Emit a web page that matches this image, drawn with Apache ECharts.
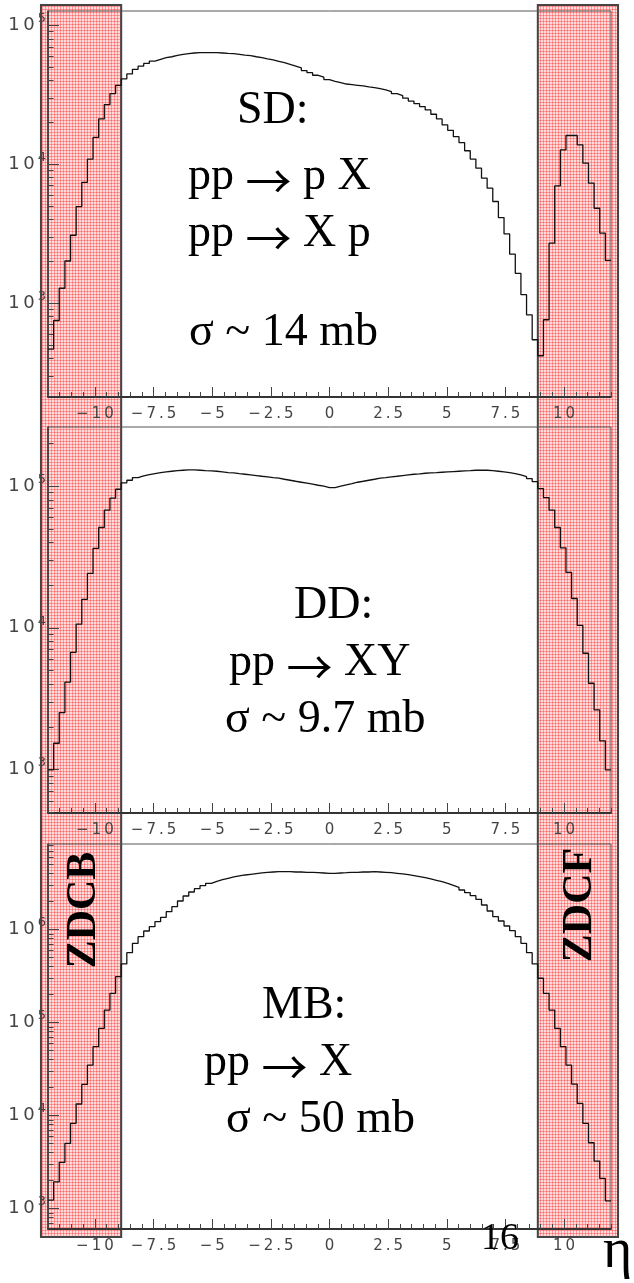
<!DOCTYPE html>
<html><head><meta charset="utf-8">
<script src="https://cdn.jsdelivr.net/npm/echarts@6/dist/echarts.min.js"></script>
<style>html,body{margin:0;padding:0;background:#fff}#c{width:634px;height:1283px}</style>
</head><body><div id="c"></div>
<script>
// ---- histogram binning (eta) ----
const etaMin = -12, etaMax = 12, nBins = 100;

// ---- bin contents ----
const sdValues = [467, 750, 1280, 2010, 3080, 4960, 7410, 10900, 15600, 21200, 26900, 32200, 37000,
  41100, 44700, 48200, 50900, 53200, 55300, 56900, 58500, 59400, 60800, 61800, 62500, 63200, 63500, 63500, 63500, 63500,
  63200, 62800, 62500, 61800, 61100, 60500, 59400, 58500, 57300, 56300, 55100, 53800, 52400, 50900, 49300, 47200, 45600, 43700, 42300, 40700,
  39500, 38700, 37800, 37400, 37000, 36600, 36000, 35600, 35000, 34300, 33300, 32200, 31200, 29900, 28500, 27300, 26000, 24600, 22900, 21200,
  19200, 17500, 15800, 14300, 12500, 10900, 9360, 7930, 6720, 5390, 4130, 3150, 2250, 1640, 1150, 824, 545, 418,
  759, 2700, 6980, 12700, 16100, 16100, 13800, 10200, 7300, 4820, 3190, 2030];

const ddValues = [993, 1530, 2520, 4130, 6710, 10600, 15900, 24200, 36400, 51100, 67700, 82300, 95200,
  105600, 110200, 115100, 118300, 120800, 122800, 124800, 126200, 127600, 128900, 129700, 130400,
  130400, 129700, 128900, 128300, 127600, 126200, 124800, 124200, 122800, 121500, 120200, 118900, 117600, 116400, 115100,
  113900, 112000, 110200, 108400, 106700, 105000, 103300, 101600, 100000, 97900,
  97900, 100000, 102200, 104400, 106700, 108400, 110200, 112000, 113900, 115100, 116400, 117600, 118900, 120200, 121500,
  122200, 123500, 124200, 124800, 125500, 126200, 126900, 127600, 128300, 128900, 129700, 129700, 129700, 128900, 127600,
  126200, 124800, 122800, 120200, 117000, 113200, 107900, 96300,
  83200, 67700, 51100, 36700, 24600, 16100, 10400, 6610, 4060, 2630, 1590, 993];

const mbValues = [1230, 1940, 3140, 5020, 8240, 13300, 21600, 34900, 55000, 86500, 136000, 206000, 311000,
  426000, 564000, 710000, 837000, 964000, 1073000, 1214000, 1351000, 1555000, 1760000, 2025000, 2292000, 2531000, 2749000, 2960000,
  3136000, 3295000, 3434000, 3550000, 3669000, 3761000, 3855000, 3920000, 3985000, 4051000, 4118000, 4152000, 4187000,
  4187000, 4187000, 4152000, 4152000, 4118000, 4118000, 4084000, 4051000, 4018000, 4018000, 4051000, 4084000, 4118000, 4118000,
  4152000, 4152000, 4187000, 4152000, 4118000, 4084000, 4018000, 3952000, 3887000, 3792000, 3699000, 3609000, 3491000, 3378000,
  3268000, 3136000, 2985000, 2841000, 2658000, 2489000, 2311000, 2110000, 1834000, 1581000, 1374000, 1234000, 1090000, 972000,
  837000, 710000, 564000, 426000, 299000,
  206000, 136000, 86500, 55000, 34900, 21800, 13500, 8240, 5100, 3240, 2110, 1210];

// ---- axes ----
const xTickLabels = [-10, -7.5, -5, -2.5, 0, 2.5, 5, 7.5, 10];
const yDecades = [[1e3, 1e4, 1e5], [1e3, 1e4, 1e5], [1e3, 1e4, 1e5, 1e6]];
const yRanges = [[211, 126800], [492, 262000], [603, 8300000]];
const zdcBands = [[-12.3, -8.88], [8.88, 12.3]];
const zdcNames = ['ZDCB', 'ZDCF'];

// annotation lines: [before arrow, after arrow] or plain text
const panelTexts = [
  ['SD:', ['pp ', ' p X'], ['pp ', ' X p'], '\u03c3 ~ 14 mb'],
  ['DD:', ['pp ', ' XY'], '\u03c3 ~ 9.7 mb'],
  ['MB:', ['pp ', ' X'], '\u03c3 ~ 50 mb']
];

const chart = echarts.init(document.getElementById('c'), null, {renderer: 'canvas'});

const binW = (etaMax - etaMin) / nBins;
function histData(vals) {
  const d = vals.map((v, i) => [+(etaMin + i * binW).toFixed(4), v]);
  d.push([etaMax, vals[vals.length - 1]]);
  return d;
}
const xMinor = [];
for (let v = etaMin; v <= etaMax + 1e-9; v += 0.5) xMinor.push(+v.toFixed(2));

function yMinorTicks(r) {
  const out = [];
  for (let e = 2; e <= 7; e++) for (let m = 2; m <= 9; m++) {
    const v = m * Math.pow(10, e);
    if (v > r[0] && v < r[1]) out.push(v);
  }
  return out;
}
function fmtX(v) {
  const s = v < 0 ? '\u2212' + Math.abs(v) : String(v);
  return s.split('').join('\u2009');
}
const labelColor = '#444';
const grids = [
  {left: 48, right: 23, top: 11, height: 386},
  {left: 48, right: 23, top: 427, height: 386},
  {left: 48, right: 23, top: 844, height: 385}
];
const xAxes = [], yAxes = [], series = [];
const allVals = [sdValues, ddValues, mbValues];
for (let g = 0; g < 3; g++) {
  grids[g].show = true; grids[g].borderColor = '#555'; grids[g].borderWidth = 1;
  xAxes.push({
    type: 'value', gridIndex: g, min: etaMin, max: etaMax, position: 'bottom',
    axisLine: {show: true, onZero: false, lineStyle: {color: '#333', width: 2}},
    axisTick: {show: true, inside: true, length: 10, customValues: xTickLabels, lineStyle: {color: '#444'}},
    axisLabel: {customValues: xTickLabels, margin: 10, fontFamily: 'DejaVu Sans', fontSize: 15, color: labelColor, formatter: fmtX},
    splitLine: {show: false}
  });
  xAxes.push({
    type: 'value', gridIndex: g, min: etaMin, max: etaMax, position: 'bottom',
    axisLine: {show: false, onZero: false},
    axisTick: {show: true, inside: true, length: 5, customValues: xMinor, lineStyle: {color: '#444'}},
    axisLabel: {show: false}, splitLine: {show: false}
  });
  yAxes.push({
    type: 'log', logBase: 10, gridIndex: g, min: yRanges[g][0], max: yRanges[g][1], position: 'left',
    axisLine: {show: true, onZero: false, lineStyle: {color: '#333', width: 1.5}},
    axisTick: {show: true, inside: true, length: 11, customValues: yDecades[g], lineStyle: {color: '#444'}},
    axisLabel: {
      customValues: yDecades[g], margin: 2,
      formatter: v => '{b|1\u20090}{e|' + Math.round(Math.log10(v)) + '}',
      rich: {
        b: {fontFamily: 'DejaVu Sans', fontSize: 18, lineHeight: 26, color: labelColor},
        e: {fontFamily: 'DejaVu Sans', fontSize: 13, lineHeight: 13, verticalAlign: 'top', color: labelColor, padding: [0, 0, 0, 3]}
      }
    },
    splitLine: {show: false}
  });
  yAxes.push({
    type: 'log', logBase: 10, gridIndex: g, min: yRanges[g][0], max: yRanges[g][1], position: 'left',
    axisLine: {show: false, onZero: false},
    axisTick: {show: true, inside: true, length: 5.5, customValues: yMinorTicks(yRanges[g]), lineStyle: {color: '#444'}},
    axisLabel: {show: false}, splitLine: {show: false}
  });
  series.push({
    type: 'line', xAxisIndex: 2 * g, yAxisIndex: 2 * g, data: histData(allVals[g]),
    step: 'end', symbol: 'none', silent: true, z: 5,
    lineStyle: {color: '#111', width: 1.3}
  });
}

chart.setOption({
  animation: false,
  backgroundColor: '#fff',
  grid: grids, xAxis: xAxes, yAxis: yAxes, series: series
});

// pink hatched pattern for the ZDC regions
const pc = document.createElement('canvas');
pc.width = 6; pc.height = 6;
const ctx = pc.getContext('2d');
ctx.fillStyle = '#ffdcdc'; ctx.fillRect(0, 0, 6, 6);
ctx.fillStyle = '#ff9a9a';
ctx.fillRect(0, 0, 6, 1); ctx.fillRect(0, 3, 6, 1); ctx.fillRect(0, 0, 1, 6); ctx.fillRect(3, 0, 1, 6);
ctx.fillStyle = '#ff6a6a';
ctx.fillRect(0, 0, 1, 1); ctx.fillRect(3, 3, 1, 1); ctx.fillRect(0, 3, 1, 1); ctx.fillRect(3, 0, 1, 1);

const yTop = chart.convertToPixel({yAxisIndex: 0}, yRanges[0][1]) - 6;
const yBot = chart.convertToPixel({yAxisIndex: 4}, yRanges[2][0]) + 8;
const graphics = [];
zdcBands.forEach((b) => {
  const x0 = chart.convertToPixel({xAxisIndex: 0}, b[0]);
  const x1 = chart.convertToPixel({xAxisIndex: 0}, b[1]);
  graphics.push({
    type: 'rect', z: -5, silent: true,
    shape: {x: x0, y: yTop, width: x1 - x0, height: yBot - yTop},
    style: {fill: {image: pc, repeat: 'repeat'}, stroke: '#444', lineWidth: 2}
  });
});
// ZDC names, rotated
const zdcPos = [[84, 910], [580, 905]];
zdcNames.forEach((n, i) => {
  graphics.push({
    type: 'text', z: 10, x: zdcPos[i][0], y: zdcPos[i][1], rotation: Math.PI / 2,
    style: {text: n, font: 'bold 42px "Liberation Serif", "Times New Roman", serif', fill: '#000',
      align: 'center', verticalAlign: 'middle', textAlign: 'center', textVerticalAlign: 'middle'}
  });
});
// annotations
const textPos = [
  [[237, 111], [188, 177], [188, 234], [189, 333]],
  [[294, 606], [229, 663], [225, 720]],
  [[262, 1006], [204, 1063], [226, 1120]]
];
const serif = '"Liberation Serif", "Times New Roman", serif';
panelTexts.forEach((lines, p) => {
  lines.forEach((t, j) => {
    const isArrow = Array.isArray(t);
    const txt = isArrow ? '{t|' + t[0] + '}{a|\u2192}{t|' + t[1] + '}' : t;
    graphics.push({
      type: 'text', z: 10, x: textPos[p][j][0], y: textPos[p][j][1],
      style: {text: txt, fontSize: 46, fontFamily: serif, fill: '#000',
        align: 'left', verticalAlign: 'middle', textAlign: 'left', textVerticalAlign: 'middle',
        rich: {
          t: {fontSize: 46, fontFamily: serif, fill: '#000', lineHeight: 50},
          a: {fontSize: 46, fontFamily: '"Noto Sans CJK SC", "DejaVu Sans"', fill: '#000', lineHeight: 50, padding: [8, 0, 0, 0]}
        }}
    });
  });
});
graphics.push({
  type: 'text', z: 10, x: 500, y: 1239,
  style: {text: '16', font: '38px "Liberation Serif", serif', fill: '#000',
    align: 'center', verticalAlign: 'middle', textAlign: 'center', textVerticalAlign: 'middle'}
});
graphics.push({
  type: 'text', z: 10, x: 603, y: 1252,
  style: {text: '\u03b7', font: '56px "Liberation Serif", serif', fill: '#000',
    align: 'left', verticalAlign: 'middle', textAlign: 'left', textVerticalAlign: 'middle'}
});
chart.setOption({graphic: graphics});
</script>
</body></html>
